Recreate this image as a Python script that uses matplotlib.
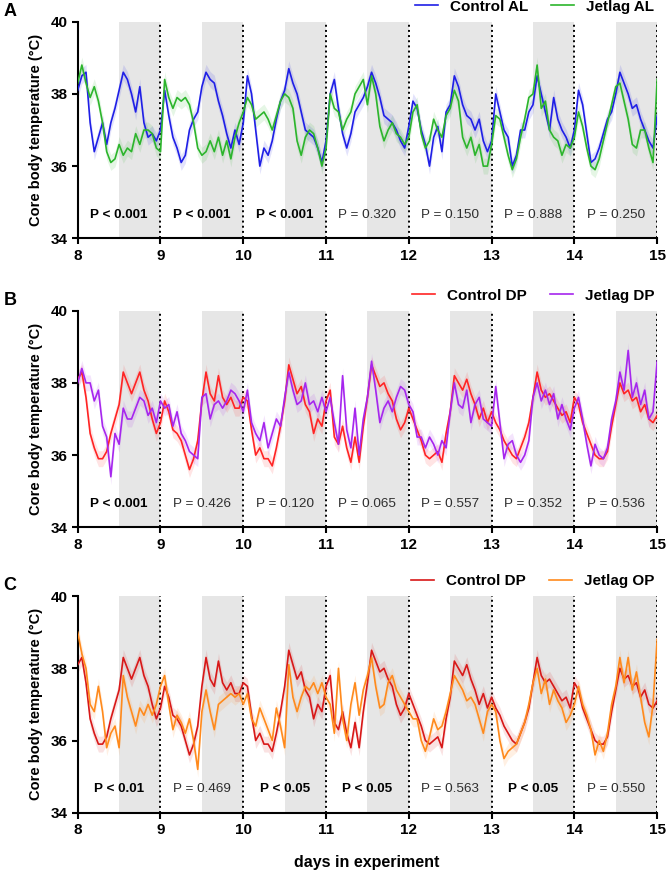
import numpy as np
import matplotlib.pyplot as plt

plt.rcParams['font.family'] = ['Liberation Sans', 'DejaVu Sans']

# time axis: days 8..15 in steps of 0.05 day
days = np.round(np.arange(8.0, 15.0001, 0.05), 2)

# ---- panel A ----
control_al = [
    38.1, 38.5, 38.6, 37.2, 36.4, 36.8, 37.2, 36.6, 37.2, 37.6, 38.1, 38.6, 38.4, 38.0, 37.5, 38.2, 37.2, 36.8, 36.9, 36.7,
    37.0, 38.1, 37.4, 36.8, 36.5, 36.1, 36.3, 37.0, 37.3, 37.5, 38.2, 38.6, 38.4, 38.3, 37.8, 37.4, 36.9, 36.5, 37.0, 36.6,
    37.2, 38.5, 38.0, 37.0, 36.0, 36.5, 36.3, 36.7, 37.3, 37.8, 38.1, 38.7, 38.3, 38.0, 37.5, 37.0, 36.9, 36.8, 36.5, 36.1,
    36.7, 38.0, 38.4, 37.6, 36.9, 36.5, 36.9, 37.5, 37.7, 37.9, 38.2, 38.6, 38.3, 37.9, 37.4, 37.3, 37.2, 37.0, 36.7, 36.5,
    37.1, 37.8, 37.6, 37.0, 36.6, 36.0, 36.8, 37.1, 36.4, 37.5, 37.7, 38.5, 38.2, 37.7, 37.4, 37.3, 37.0, 37.3, 36.7, 36.4,
    36.7, 38.0, 37.5, 37.0, 36.8, 36.0, 36.3, 37.0, 37.0, 37.5, 37.7, 38.5, 38.0, 37.5, 37.0, 37.9, 37.3, 37.0, 36.8, 36.5,
    37.0, 38.1, 37.7, 36.9, 36.1, 36.2, 36.5, 36.9, 37.3, 37.5, 38.0, 38.6, 38.3, 38.0, 37.6, 37.7, 37.3, 37.0, 36.7, 36.5,
    37.4]
jetlag_al = [
    38.3, 38.8, 38.3, 37.9, 38.2, 37.8, 37.2, 36.4, 36.1, 36.2, 36.6, 36.3, 36.5, 36.4, 36.9, 36.6, 37.0, 37.0, 36.9, 36.5,
    36.4, 38.4, 37.9, 37.6, 37.9, 37.8, 37.9, 37.7, 37.2, 36.5, 36.3, 36.4, 36.7, 36.4, 36.8, 36.3, 36.7, 36.2, 36.8, 37.2,
    37.5, 37.9, 37.7, 37.3, 37.4, 37.5, 37.3, 37.0, 37.4, 37.8, 38.0, 37.9, 37.6, 36.7, 36.3, 36.8, 37.0, 36.9, 36.5, 36.0,
    36.5, 38.0, 37.6, 37.5, 37.0, 37.3, 37.5, 38.0, 38.2, 38.4, 37.7, 38.5, 38.0, 37.1, 36.7, 37.0, 37.2, 36.9, 36.8, 36.6,
    36.8, 37.5, 37.7, 36.9, 36.5, 36.7, 37.3, 37.0, 36.8, 37.4, 37.6, 38.1, 37.8, 36.8, 36.5, 36.8, 36.3, 36.6, 36.0, 36.0,
    36.6, 37.4, 37.3, 36.8, 36.3, 35.9, 36.2, 36.8, 37.3, 37.9, 38.0, 38.8, 37.6, 37.8, 37.0, 36.8, 36.7, 36.3, 36.6, 36.5,
    36.8, 37.5, 37.1, 36.5, 36.0, 35.9, 36.2, 36.7, 37.2, 37.7, 38.2, 38.3, 37.8, 37.3, 36.6, 36.5, 37.0, 37.0, 36.5, 36.1,
    38.4]

# ---- panels B and C (Control DP is the same group in both) ----
control_dp = [
    38.1, 38.3, 37.6, 36.6, 36.2, 35.9, 35.9, 36.1, 36.6, 37.0, 37.4, 38.3, 38.0, 37.7, 38.0, 38.3, 37.8, 37.5, 37.0, 36.6,
    36.9, 37.5, 37.2, 36.7, 36.6, 36.4, 36.0, 35.6, 35.9, 36.4, 37.5, 38.3, 37.7, 37.5, 38.2, 37.6, 37.4, 37.6, 37.3, 37.3,
    37.6, 37.5, 36.7, 36.0, 36.2, 35.9, 35.9, 35.7, 36.2, 36.8, 37.5, 38.5, 38.1, 37.7, 37.9, 37.4, 37.2, 36.6, 37.0, 36.8,
    37.5, 37.8, 36.5, 36.3, 36.8, 36.2, 35.8, 36.5, 35.8, 36.8, 37.6, 38.5, 38.2, 37.9, 38.0, 37.7, 37.5, 37.0, 36.7, 36.9,
    37.3, 37.0, 36.7, 36.4, 36.0, 35.9, 36.0, 36.1, 35.8, 36.6, 37.2, 38.2, 38.0, 37.8, 38.1, 37.7, 37.4, 37.0, 37.3, 36.9,
    37.2, 36.9, 36.7, 36.4, 36.2, 36.0, 35.9, 36.2, 36.5, 36.9, 37.6, 38.3, 37.8, 37.6, 37.7, 37.5, 37.3, 37.1, 37.2, 36.9,
    37.6, 37.4, 36.9, 36.6, 36.3, 36.0, 35.9, 35.9, 36.1, 36.8, 37.4, 38.0, 37.7, 37.8, 37.5, 37.6, 37.2, 37.4, 37.0, 36.9,
    37.1]
jetlag_dp = [
    38.0, 38.4, 38.0, 38.0, 37.5, 37.8, 36.8, 36.5, 35.4, 36.6, 36.3, 37.3, 37.0, 37.0, 37.3, 37.6, 37.5, 37.1, 37.3, 36.9,
    37.5, 37.3, 37.4, 36.8, 37.2, 36.6, 36.4, 36.1, 36.0, 35.9, 37.6, 37.7, 37.0, 37.4, 37.5, 37.3, 37.5, 37.8, 37.7, 37.5,
    37.2, 37.8, 36.9, 36.6, 36.4, 36.9, 36.2, 36.6, 37.0, 36.8, 37.6, 38.3, 37.8, 37.4, 37.5, 38.0, 37.4, 37.5, 37.2, 37.6,
    37.2, 37.6, 36.9, 36.3, 38.2, 36.7, 36.2, 37.3, 36.0, 37.0, 37.6, 38.6, 37.8, 36.9, 37.3, 37.5, 37.2, 37.6, 37.9, 37.8,
    37.4, 37.2, 36.5, 36.5, 36.2, 36.5, 36.3, 36.0, 36.4, 36.2, 37.2, 38.0, 37.4, 37.3, 37.8, 36.9, 37.4, 37.6, 37.0, 36.9,
    36.8, 37.9, 36.9, 35.9, 36.3, 36.4, 36.0, 35.8, 36.0, 36.4, 37.6, 38.0, 37.5, 37.8, 37.4, 37.7, 37.0, 37.4, 37.0, 36.7,
    37.3, 37.6, 37.0, 36.3, 35.7, 36.3, 36.0, 35.9, 36.2, 37.0, 37.5, 38.3, 37.8, 38.9, 37.6, 38.0, 37.4, 37.8, 37.0, 37.2,
    38.6]
jetlag_op = [
    39.0, 38.4, 38.0, 37.0, 36.8, 37.5, 36.8, 35.8, 36.2, 36.4, 35.8, 37.8, 37.2, 36.8, 36.4, 36.9, 36.7, 37.0, 36.7, 37.0,
    37.5, 37.8, 37.0, 36.3, 36.7, 36.5, 36.2, 36.6, 36.0, 35.2, 36.8, 37.4, 36.8, 36.3, 37.0, 37.1, 37.2, 37.3, 37.2, 37.3,
    37.0, 37.3, 36.6, 36.4, 36.9, 36.6, 36.3, 36.0, 36.9, 36.4, 35.8, 38.1, 37.2, 36.8, 37.2, 37.5, 37.4, 37.6, 37.3, 37.6,
    37.2, 37.0, 36.2, 38.0, 36.6, 36.0, 37.0, 37.6, 36.7, 37.4, 37.8, 38.3, 37.5, 36.9, 37.0, 37.6, 37.8, 37.4, 37.2, 37.0,
    36.8, 36.6, 36.6, 36.0, 35.7, 36.1, 36.6, 36.3, 36.4, 36.8, 37.3, 37.8, 37.6, 37.4, 37.1, 37.2, 37.0, 36.6, 36.2, 36.8,
    37.0, 36.8, 36.0, 35.5, 35.7, 35.8, 35.9, 36.2, 36.5, 37.0, 37.6, 38.0, 37.3, 37.7, 37.0, 37.4, 37.1, 36.9, 36.5, 36.7,
    37.0, 37.5, 37.0, 36.7, 36.3, 35.6, 36.0, 35.7, 36.2, 37.0, 37.5, 38.3, 37.6, 38.3, 37.4, 37.9, 37.2, 36.5, 36.1, 37.0,
    38.8]

sem = 0.22  # approximate half-width of the shaded error band

p_a = ['P < 0.001', 'P < 0.001', 'P < 0.001', 'P = 0.320', 'P = 0.150', 'P = 0.888', 'P = 0.250']
p_b = ['P < 0.001', 'P = 0.426', 'P = 0.120', 'P = 0.065', 'P = 0.557', 'P = 0.352', 'P = 0.536']
p_c = ['P < 0.01', 'P = 0.469', 'P < 0.05', 'P < 0.05', 'P = 0.563', 'P < 0.05', 'P = 0.550']

panels = [
    ('A', control_al, 'Control AL', '#1f1fe6', jetlag_al, 'Jetlag AL', '#2cb52c', p_a),
    ('B', control_dp, 'Control DP', '#ff2424', jetlag_dp, 'Jetlag DP', '#a626ee', p_b),
    ('C', control_dp, 'Control DP', '#d81818', jetlag_op, 'Jetlag OP', '#ff8a1c', p_c),
]

fig = plt.figure(figsize=(6.66, 8.72), dpi=100)
bottoms = [0.7267, 0.3953, 0.0680]

for (label, s1, n1, c1, s2, n2, c2, pvals), b in zip(panels, bottoms):
    ax = fig.add_axes([0.1167, b, 0.870, 0.2484])
    for d in range(8, 15):
        ax.axvspan(d + 0.5, d + 1, color='#e6e6e6', lw=0, zorder=0)
        ax.axvline(d + 1, color='black', ls=':', lw=1.4, zorder=1)
    for s, n, c in [(s1, n1, c1), (s2, n2, c2)]:
        s = np.array(s)
        ax.fill_between(days, s - sem, s + sem, color=c, alpha=0.12, lw=0, zorder=2)
        ax.plot(days, s, color=c, lw=1.2, label=n, zorder=3)
    for d, txt in zip(range(8, 15), pvals):
        bold = '<' in txt
        ax.text(d + 0.5, 34.65, txt, ha='center', va='center', fontsize=9.7,
                fontweight='bold' if bold else 'normal',
                color='black' if bold else '#2e2e2e', zorder=4)
    ax.set_xlim(8, 15)
    ax.set_ylim(34, 40)
    ax.set_xticks(range(8, 16))
    ax.set_yticks([34, 36, 38, 40])
    ax.spines['top'].set_visible(False)
    ax.spines['right'].set_visible(False)
    for sp in ['left', 'bottom']:
        ax.spines[sp].set_linewidth(1.5)
    ax.tick_params(width=1.5, length=4, labelsize=11)
    for t in ax.get_xticklabels() + ax.get_yticklabels():
        t.set_fontweight('bold')
    ax.set_ylabel('Core body temperature (°C)', fontsize=10.5, fontweight='bold', labelpad=5)
    ax.legend(loc='center right', bbox_to_anchor=(0.995, 1.07), ncol=2, frameon=False,
              prop={'weight': 'bold', 'size': 11}, handlelength=1.5, handletextpad=0.8,
              columnspacing=1.5, borderpad=0, borderaxespad=0)
    fig.text(0.005, b + 0.2484 + 0.012, label, fontsize=13, fontweight='bold', va='center', ha='left')

fig.text(0.551, 0.0105, 'days in experiment', ha='center', va='center', fontsize=11.5, fontweight='bold')

fig.savefig('out.png', dpi=100)
